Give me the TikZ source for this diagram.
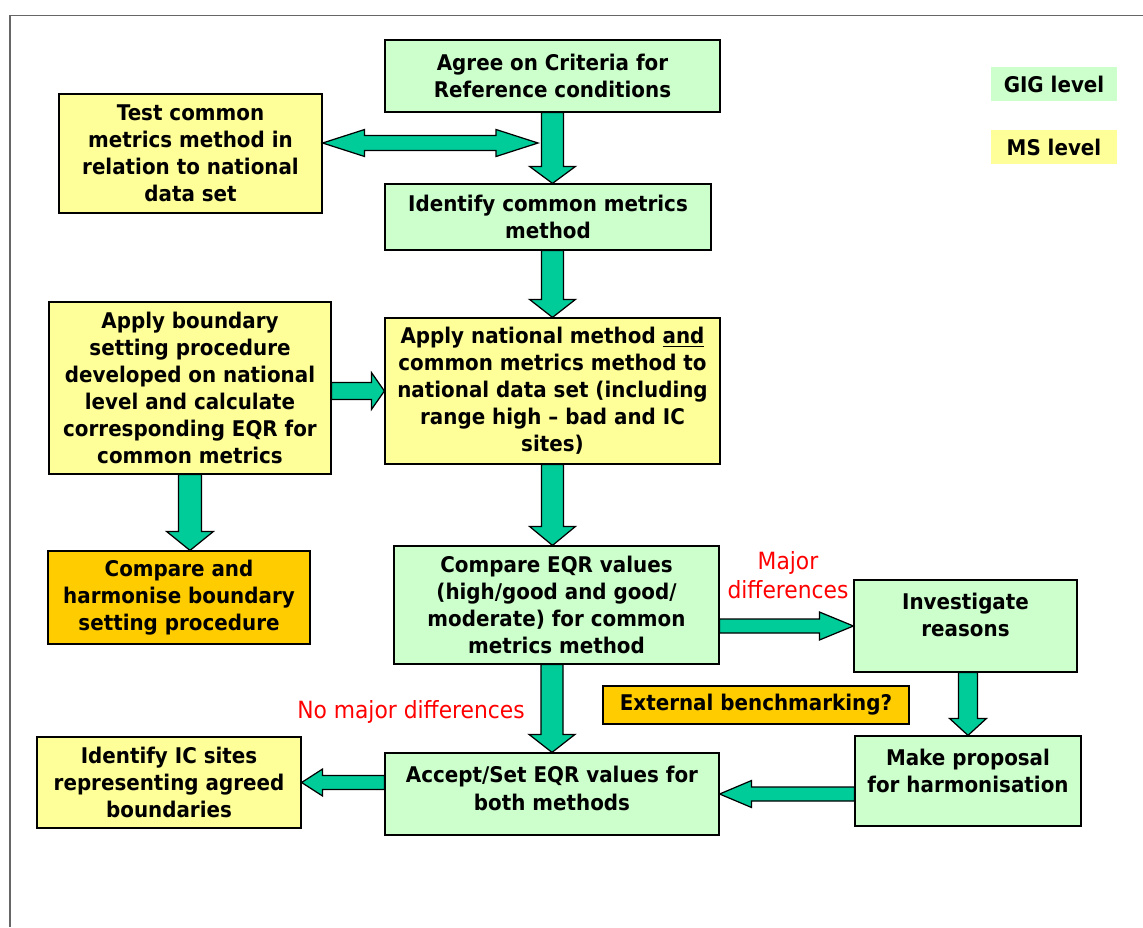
\documentclass[tikz,border=0pt]{standalone}
\usepackage{fontspec}
\setmainfont{DejaVu Sans}[FakeStretch=0.92]
\usetikzlibrary{calc,shadows}

\definecolor{gigcol}{HTML}{CCFFCC}
\definecolor{mscol}{HTML}{FFFF99}
\definecolor{harmcol}{HTML}{FFCC00}
\definecolor{arrowcol}{HTML}{00CC99}

\tikzset{
  box/.style={draw=black, line width=0.7pt, align=center,
    font=\fontsize{12.3pt}{15.4pt}\selectfont\bfseries,
    drop shadow={shadow xshift=0.8pt, shadow yshift=-0.8pt, fill=black!70, opacity=1}},
  gig/.style={box, fill=gigcol},
  ms/.style={box, fill=mscol},
  harm/.style={box, fill=harmcol},
  legend/.style={align=center, font=\fontsize{12.3pt}{15.4pt}\selectfont\bfseries,
    minimum width=2.52cm, minimum height=0.68cm},
  fat/.style={draw=black, line width=0.7pt, fill=arrowcol, line join=miter},
  remark/.style={text=red, align=center, font=\fontsize{13.5pt}{16.5pt}\selectfont}
}

% block arrow: shaft half width, head half width, head length, start, tip
\newcommand{\fatarrow}[5]{%
  \path (#4) coordinate (fa-a) (#5) coordinate (fa-b);
  \path ($(fa-b)!#3!(fa-a)$) coordinate (fa-h);
  \draw[fat] ($(fa-a)!#1!90:(fa-b)$) -- ($(fa-h)!#1!90:(fa-b)$) -- ($(fa-h)!#2!90:(fa-b)$)
    -- (fa-b) -- ($(fa-h)!#2!-90:(fa-b)$) -- ($(fa-h)!#1!-90:(fa-b)$)
    -- ($(fa-a)!#1!-90:(fa-b)$) -- cycle;
}
% same with a head at both ends
\newcommand{\fatdarrow}[5]{%
  \path (#4) coordinate (fa-a) (#5) coordinate (fa-b);
  \path ($(fa-a)!#3!(fa-b)$) coordinate (fa-g) ($(fa-b)!#3!(fa-a)$) coordinate (fa-h);
  \draw[fat] (fa-a) -- ($(fa-g)!#2!90:(fa-b)$) -- ($(fa-g)!#1!90:(fa-b)$)
    -- ($(fa-h)!#1!90:(fa-b)$) -- ($(fa-h)!#2!90:(fa-b)$) -- (fa-b)
    -- ($(fa-h)!#2!-90:(fa-b)$) -- ($(fa-h)!#1!-90:(fa-b)$)
    -- ($(fa-g)!#1!-90:(fa-b)$) -- ($(fa-g)!#2!-90:(fa-b)$) -- cycle;
}

\begin{document}
\begin{tikzpicture}[x=0.02cm, y=-0.02cm]
  \useasboundingbox (0,0) rectangle (1143,927);

  % frame
  \draw[black!60, line width=0.9pt] (10,927) -- (10,15.5) -- (1143,15.5);

  % legend
  \node[legend, fill=gigcol] (leggig) at (1054,84) {GIG level};
  \node[legend, fill=mscol] (legms) at (1054,147) {MS level};

  % boxes
  \node[gig, minimum width=6.7cm, minimum height=1.44cm] (agree) at (552.5,76)
    {Agree on Criteria for\\Reference conditions};
  \node[ms, minimum width=5.26cm, minimum height=2.38cm] (test) at (190.5,153.5)
    {Test common\\metrics method in\\relation to national\\data set};
  \node[gig, minimum width=6.52cm, minimum height=1.32cm] (ident) at (548,217)
    {Identify common metrics\\method};
  \node[ms, minimum width=5.64cm, minimum height=3.44cm] (bound) at (190,388)
    {Apply boundary\\setting procedure\\developed on national\\level  and calculate\\corresponding EQR for\\common metrics};
  \node[ms, minimum width=6.7cm, minimum height=2.92cm] (natl) at (552.5,391)
    {Apply national method \underline{and}\\common metrics method to\\national data set (including\\range high -- bad and  IC\\sites)};
  \node[harm, minimum width=5.24cm, minimum height=1.86cm] (harmon) at (179,597.5)
    {Compare and\\harmonise boundary\\setting procedure};
  \node[gig, minimum width=6.5cm, minimum height=2.36cm] (cmp) at (556.5,605)
    {Compare EQR values\\(high/good and good/\\moderate) for common\\metrics method};
  \node[gig, minimum width=4.46cm, minimum height=1.84cm, text height=28.5pt, text depth=17pt] (inv) at (965.5,626)
    {Investigate\\reasons};
  \node[harm, minimum width=6.12cm, minimum height=0.76cm] (ext) at (756,705)
    {External benchmarking?};
  \node[gig, minimum width=4.52cm, minimum height=1.8cm, text height=28.5pt, text depth=15.8pt] (prop) at (968,781)
    {Make proposal\\for harmonisation};
  \node[gig, minimum width=6.68cm, minimum height=1.64cm, text height=29pt, text depth=10.8pt] (accept) at (552,794)
    {Accept/Set EQR values for\\both methods};
  \node[ms, minimum width=5.28cm, minimum height=1.82cm] (icsites) at (169,782.5)
    {Identify IC sites\\representing agreed\\boundaries};

  % red remarks
  \node[remark] (major) at (788,575) {Major\\differences};
  \node[remark] (nomajor) at (411,712) {No major differences};

  % arrows
  \coordinate (dbl) at (538,143);
  \fatarrow{0.22cm}{0.46cm}{0.34cm}{agree.south}{agree.south |- ident.north}
  \fatdarrow{0.15cm}{0.27cm}{0.84cm}{test.east |- dbl}{dbl}
  \fatarrow{0.22cm}{0.46cm}{0.36cm}{natl.north |- ident.south}{natl.north}
  \fatarrow{0.17cm}{0.37cm}{0.26cm}{bound.east |- natl.west}{natl.west}
  \fatarrow{0.23cm}{0.47cm}{0.38cm}{bound.south}{bound.south |- harmon.north}
  \fatarrow{0.22cm}{0.46cm}{0.38cm}{natl.south}{natl.south |- cmp.north}
  \fatarrow{0.14cm}{0.28cm}{0.68cm}{cmp.east |- inv.west}{inv.west}
  \fatarrow{0.19cm}{0.37cm}{0.34cm}{prop.north |- inv.south}{prop.north}
  \fatarrow{0.22cm}{0.46cm}{0.36cm}{accept.north |- cmp.south}{accept.north}
  \fatarrow{0.14cm}{0.27cm}{0.64cm}{prop.west |- accept.east}{accept.east}
  \fatarrow{0.14cm}{0.27cm}{0.42cm}{accept.west |- icsites.east}{icsites.east}
\end{tikzpicture}
\end{document}
